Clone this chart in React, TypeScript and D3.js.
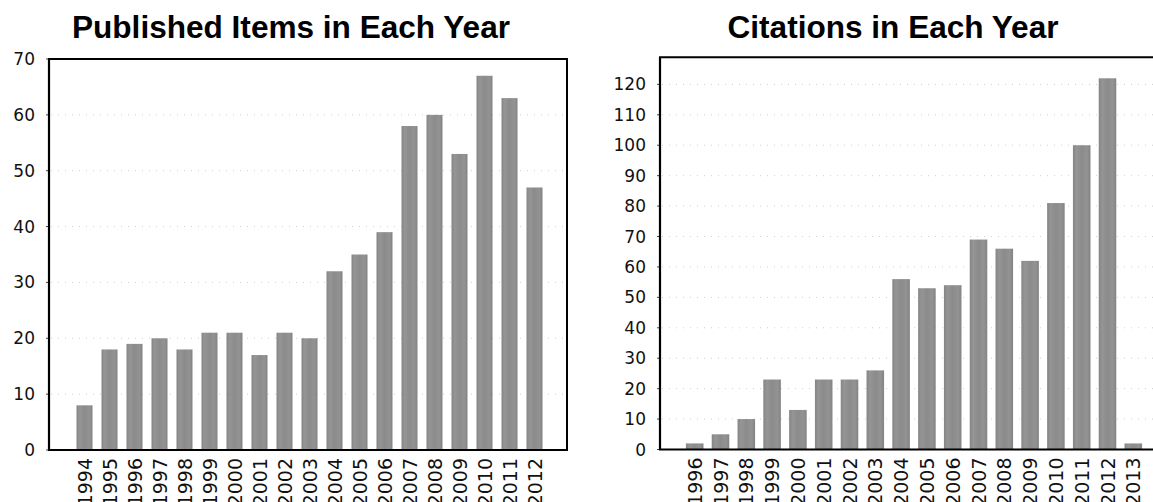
import * as d3 from "d3";
import React from "react";

const pubYears = ["1994", "1995", "1996", "1997", "1998", "1999", "2000", "2001", "2002", "2003", "2004", "2005", "2006", "2007", "2008", "2009", "2010", "2011", "2012"];
const pubCounts = [8, 18, 19, 20, 18, 21, 21, 17, 21, 20, 32, 35, 39, 58, 60, 53, 67, 63, 47];
const pubTicks = [0, 10, 20, 30, 40, 50, 60, 70];

const citeYears = ["1996", "1997", "1998", "1999", "2000", "2001", "2002", "2003", "2004", "2005", "2006", "2007", "2008", "2009", "2010", "2011", "2012", "2013"];
const citeCounts = [2, 5, 10, 23, 13, 23, 23, 26, 56, 53, 54, 69, 66, 62, 81, 100, 122, 2];
const citeTicks = [0, 10, 20, 30, 40, 50, 60, 70, 80, 90, 100, 110, 120];

type PanelProps = {
    title: string;
    titleX: number;
    titleW: number;
    years: string[];
    counts: number[];
    ticks: number[];
    yMax: number;
    left: number;
    right: number;
    top: number;
    bottom: number;
    bandRange: [number, number];
    pad: number;
    showRight: boolean;
};

const Panel: React.FC<PanelProps> = (p) => {
    const x = d3.scaleBand<string>().domain(p.years).range(p.bandRange).paddingInner(p.pad).paddingOuter(p.pad / 2);
    const y = d3.scaleLinear().domain([0, p.yMax]).range([p.bottom, p.top]);
    const font = "'DejaVu Sans', sans-serif";
    return (
        <g>
            <text x={p.titleX} y={38} textAnchor="middle" textLength={p.titleW} lengthAdjust="spacingAndGlyphs"
                style={{ fontFamily: "'Liberation Sans', Arial, sans-serif", fontWeight: 700, fontSize: 31.4 }} fill="#000">{p.title}</text>

            {p.ticks.filter(t => t > 0 && y(t) > p.top + 2).map(t => (
                <line key={"g" + t} x1={p.left + 2} x2={p.right - 2} y1={y(t)} y2={y(t)} stroke="#cfcfcf" strokeDasharray="1 6" />
            ))}

            {p.years.map((yr, i) => (
                <rect key={yr} x={x(yr)} y={y(p.counts[i])} width={x.bandwidth()} height={y(0) - y(p.counts[i])}
                    fill="url(#barGrad)" />
            ))}

            {p.ticks.map(t => (
                <g key={"t" + t}>
                    <line x1={p.left - 3} x2={p.left} y1={y(t)} y2={y(t)} stroke="#444" strokeWidth={1} />
                    <text x={p.left - 14} y={y(t)} textAnchor="end" dominantBaseline="central"
                        style={{ fontFamily: font, fontSize: 17 }} fill="#111">{t}</text>
                </g>
            ))}

            {p.years.map(yr => {
                const cx = x(yr)! + x.bandwidth() / 2;
                return (
                    <text key={"l" + yr} transform={`translate(${cx},${p.bottom + 8}) rotate(-90)`} textAnchor="end"
                        dominantBaseline="central" style={{ fontFamily: font, fontSize: 19 }} fill="#111">{yr}</text>
                );
            })}

            <line x1={p.left} x2={p.left} y1={p.top} y2={p.bottom} stroke="#000" strokeWidth={2.2} />
            <line x1={p.left - 1} x2={p.right + 1} y1={p.bottom} y2={p.bottom} stroke="#000" strokeWidth={2.2} />
            <line x1={p.left - 1} x2={p.right + 1} y1={p.top} y2={p.top} stroke="#000" strokeWidth={2} />
            {p.showRight && <line x1={p.right} x2={p.right} y1={p.top} y2={p.bottom} stroke="#000" strokeWidth={2} />}
        </g>
    );
};

export default function App() {
    return (
        <div style={{ position: "fixed", left: 0, top: 0, background: "#fff" }}>
            <svg width={1153} height={502} viewBox="0 0 1153 502" style={{ display: "block" }}>
                <defs>
                    <linearGradient id="barGrad" x1="0" x2="1" y1="0" y2="0">
                        <stop offset="0" stopColor="#858585" />
                        <stop offset="0.2" stopColor="#959595" />
                        <stop offset="0.5" stopColor="#8b8b8b" />
                        <stop offset="0.8" stopColor="#939393" />
                        <stop offset="1" stopColor="#838383" />
                    </linearGradient>
                </defs>
                <rect width={1153} height={502} fill="#fff" />
                <Panel title="Published Items in Each Year" titleX={291} titleW={438}
                    years={pubYears} counts={pubCounts} ticks={pubTicks} yMax={70}
                    left={49} right={567} top={59} bottom={450} bandRange={[72, 547]} pad={0.36} showRight={true} />
                <Panel title="Citations in Each Year" titleX={893} titleW={331}
                    years={citeYears} counts={citeCounts} ticks={citeTicks} yMax={128.9}
                    left={660} right={1156} top={57.3} bottom={449.5} bandRange={[681.8, 1146.2]} pad={0.32} showRight={false} />
            </svg>
        </div>
    );
}
